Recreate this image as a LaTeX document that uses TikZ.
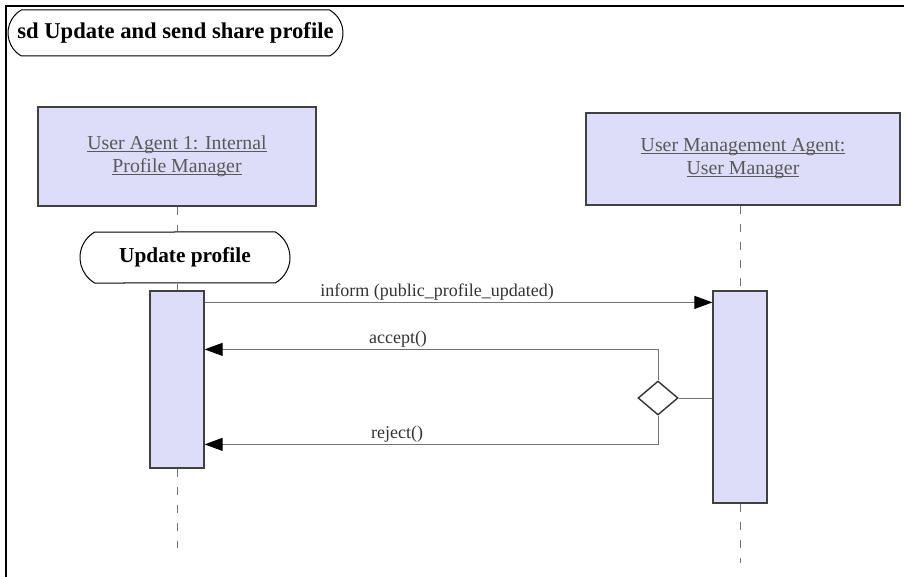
\documentclass[tikz,border=0pt]{standalone}
\usepackage{fontspec}
\setmainfont{Liberation Serif}
\usepackage{tikz}
\usetikzlibrary{arrows.meta,shapes.geometric,shapes.misc}

\definecolor{boxfill}{HTML}{DDDDFA}
\newcommand{\lifename}[1]{\underline{\smash{#1}}\vphantom{#1}}

\begin{document}
\begin{tikzpicture}[x=1pt,y=-1pt,
    lifebox/.style={draw=black!75, line width=1.2pt, fill=boxfill, align=center, text=black!65, font=\fontsize{19.8}{23}\selectfont, inner sep=0pt},
    activation/.style={draw=black!75, line width=1.2pt, fill=boxfill, minimum width=54pt, inner sep=0pt},
    frag/.style={draw=black, line width=1pt, rounded rectangle, rounded rectangle arc length=120, inner sep=0pt, font=\bfseries\fontsize{21.3}{24}\selectfont},
    lifeline/.style={draw=black!55, line width=0.9pt, dash pattern=on 8pt off 10pt},
    msg/.style={draw=black!55, line width=1pt},
    msgtip/.style={msg, -{Triangle[length=18pt,width=13pt,color=black]}},
    msglabel/.style={text=black!80, font=\fontsize{18}{20}\selectfont, inner sep=0pt, anchor=base}
]
    % Set box dimensions
    \pgfmathsetmacro{\actwidth}{54}

    \useasboundingbox (0,0) rectangle (904,577);

    % Draw frame
    \draw[line width=2pt] (6,577) -- (6,6) -- (904,6);

    % Draw title
    \node[frag, minimum width=335pt, minimum height=46pt, font=\bfseries\fontsize{22.6}{24}\selectfont] at (175.5,33) (title) {sd Update and send share profile};

    % Draw lifeline heads
    \node[lifebox, minimum width=278pt, minimum height=99pt] at (177,156.5) (agent) {\lifename{User Agent 1: Internal}\\\lifename{Profile Manager}};
    \node[lifebox, minimum width=314pt, minimum height=92pt] at (743,159) (manager) {\lifename{User Management Agent:}\\\lifename{User Manager}};

    % Draw fragment and activations
    \node[frag, minimum width=210pt, minimum height=51pt] at (185,257.5) (update) {Update profile};
    \node[activation, minimum height=177pt] at (177,379.5) (agentact) {};
    \node[activation, minimum height=212pt] at (740,397) (manageract) {};

    % Draw decision
    \node[diamond, draw=black!80, line width=1.4pt, minimum width=40pt, minimum height=34pt, inner sep=0pt] at (658,398) (choice) {};

    \coordinate (agentend) at (177,548);
    \coordinate (managerend) at (740,563);

    % Draw lifelines
    \draw[lifeline] (agent.south) -- (agent.south |- update.north);
    \draw[lifeline] (agent.south |- update.south) -- (agentact.north);
    \draw[lifeline] (agentact.south) -- (agentend);
    \draw[lifeline] (manageract.north |- manager.south) -- (manageract.north);
    \draw[lifeline] (manageract.south) -- (managerend);

    % Draw messages
    \draw[msgtip] ([yshift=-12pt]agentact.north east) -- ([yshift=-12pt]manageract.north west);
    \node[msglabel] at (437,296) (inform) {inform (public\_profile\_updated)};

    \draw[msgtip] (choice.north) |- ([yshift=-59pt]agentact.north east);
    \node[msglabel] at (398,343) (accept) {accept()};

    \draw[msgtip] (choice.south) |- ([yshift=-154pt]agentact.north east);
    \node[msglabel] at (397,438) (reject) {reject()};

    \draw[msg] (choice.east) -- (choice.east -| manageract.west);
\end{tikzpicture}
\end{document}
